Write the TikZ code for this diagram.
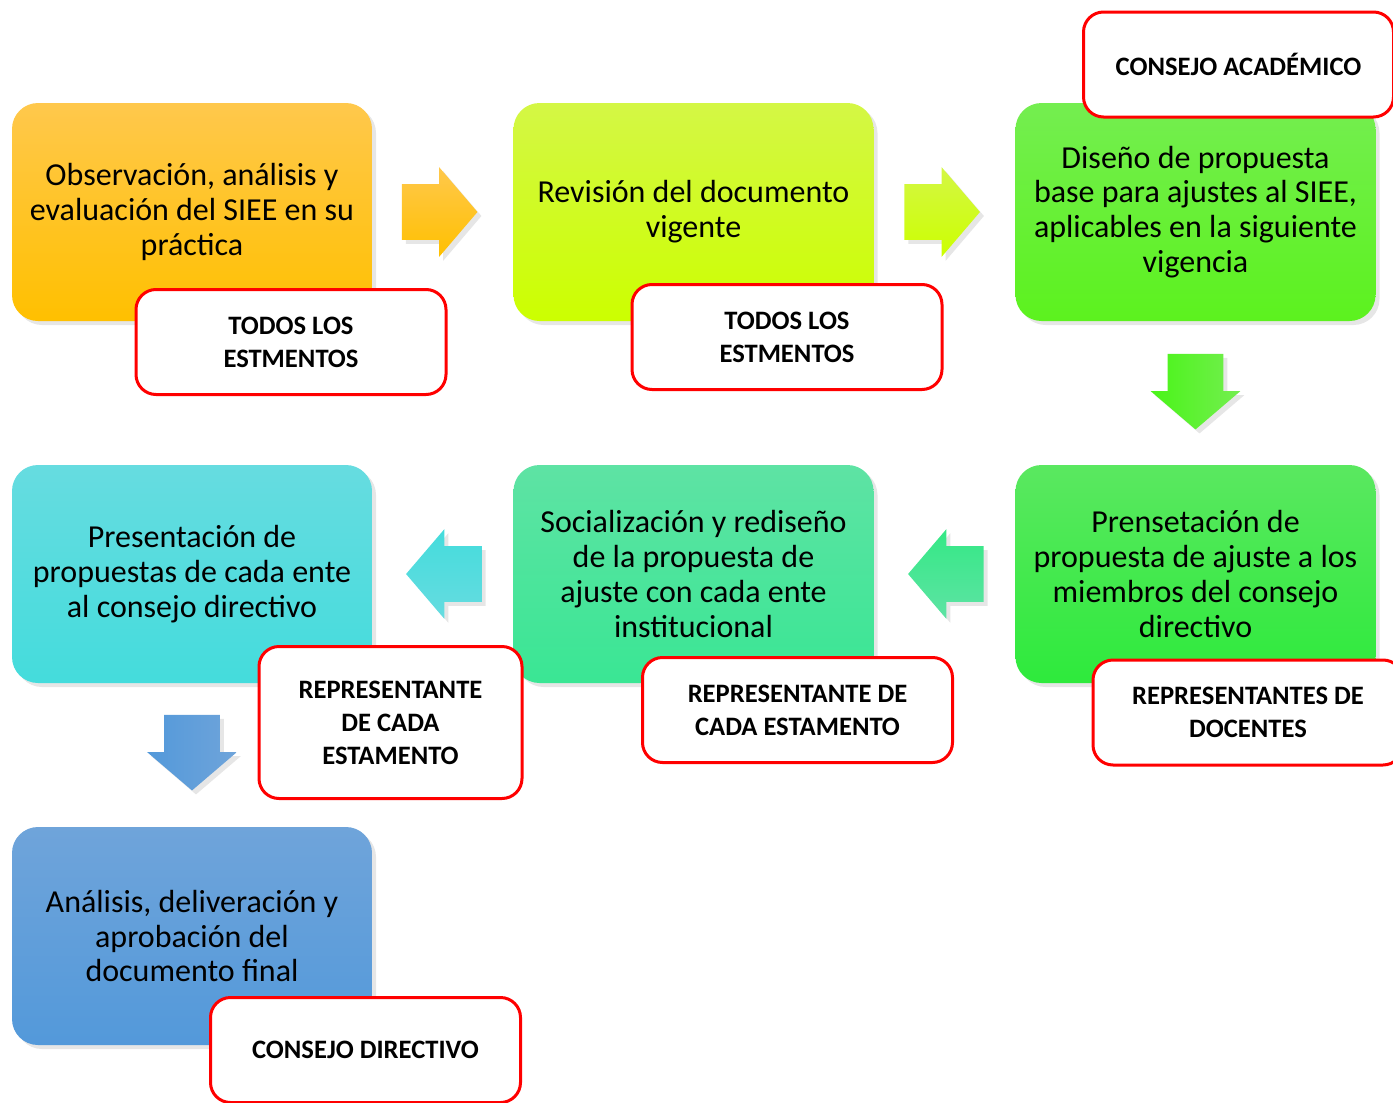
\documentclass[tikz,border=0pt]{standalone}
\usepackage{fontspec}
\setmainfont{Carlito}
\usepackage{tikz}
\usetikzlibrary{calc,shapes.arrows,shadows}
\definecolor{topA}{HTML}{FFC84C}
\definecolor{botA}{HTML}{FFC000}
\definecolor{topB}{HTML}{D4F745}
\definecolor{botB}{HTML}{CCFF00}
\definecolor{topC}{HTML}{74EE50}
\definecolor{botC}{HTML}{5CF21E}
\definecolor{topD}{HTML}{5AE860}
\definecolor{botD}{HTML}{2EEA3C}
\definecolor{topE}{HTML}{5EE3A4}
\definecolor{botE}{HTML}{3AE694}
\definecolor{topF}{HTML}{66DCE0}
\definecolor{botF}{HTML}{44DCDC}
\definecolor{topG}{HTML}{6FA4DA}
\definecolor{botG}{HTML}{5399DA}
\definecolor{redline}{HTML}{FF0000}

\begin{document}
\begin{tikzpicture}[x=0.5pt, y=-0.5pt,
  stepbox/.style={rounded corners=13pt, minimum width=180pt, minimum height=109pt, inner sep=0pt,
    align=center, font=\fontsize{16}{17.4}\selectfont,
    drop shadow={opacity=0.2, shadow xshift=2pt, shadow yshift=-2pt}},
  whobox/.style={draw=redline, line width=1.5pt, fill=white, rounded corners=10pt,
    minimum width=155pt, minimum height=52.5pt, inner sep=0pt, align=center,
    font=\bfseries\fontsize{13.3}{16.5}\selectfont},
  flow/.style={single arrow, single arrow head extend=8.5pt, single arrow tip angle=99,
    inner xsep=12.75pt, inner ysep=13.75pt, anchor=tail,
    drop shadow={opacity=0.2, shadow xshift=2pt, shadow yshift=-2pt}},
  flowdown/.style={flow, shape border rotate=270, inner xsep=13.75pt, inner ysep=12.75pt}
]
\useasboundingbox (0,0) rectangle (1393,1103);

% process steps
\foreach \n/\k/\x/\y/\txt in {
  1/A/192/212/{Observación, análisis y\\evaluación del SIEE en su\\práctica},
  2/B/693.5/212/{Revisión del documento\\vigente},
  3/C/1195.5/212/{Diseño de propuesta\\base para ajustes al SIEE,\\aplicables en la siguiente\\vigencia},
  4/D/1195.5/574/{Prensetación de\\propuesta de ajuste a los\\miembros del consejo\\directivo},
  5/E/693.5/574/{Socialización y rediseño\\de la propuesta de\\ajuste con cada ente\\institucional},
  6/F/192/574/{Presentación de\\propuestas de cada ente\\al consejo directivo},
  7/G/192/936/{Análisis, deliveración y\\aprobación del\\documento final}} {
  \node[stepbox, top color=top\k, bottom color=bot\k] (s\n) at (\x,\y) {\txt};
}

% block arrows between steps
\node[flow, top color=topA, bottom color=botA] (a1) at ($(s1.east)+(29,0)$) {};
\node[flow, top color=topB, bottom color=botB] (a2) at ($(s2.east)+(30,0)$) {};
\node[flowdown, left color=botC!80!green, right color=topC] (a3) at ($(s3.south)+(0,32)$) {};
\node[flow, shape border rotate=180, top color=botE!90!green, bottom color=topE] (a4) at ($(s4.west)+(-31,0)$) {};
\node[flow, shape border rotate=180, top color=botF, bottom color=topF] (a5) at ($(s5.west)+(-31,0)$) {};
\node[flowdown, left color=botG, right color=topG] (a6) at ($(s6.south)+(0,31)$) {};

% who is in charge
\node[whobox] (w1) at (291,342) {TODOS LOS\\ESTMENTOS};
\node[whobox] (w2) at (787,337) {TODOS LOS\\ESTMENTOS};
\node[whobox] (w3) at (1238.5,64.5) {CONSEJO ACADÉMICO};
\node[whobox] (w4) at (1248,712.5) {REPRESENTANTES DE\\DOCENTES};
\node[whobox] (w5) at (797.5,710) {REPRESENTANTE DE\\CADA ESTAMENTO};
\node[whobox, minimum width=131.5pt, minimum height=76pt] (w6) at (390.5,722.5) {REPRESENTANTE\\DE CADA\\ESTAMENTO};
\node[whobox] (w7) at (365.5,1050) {CONSEJO DIRECTIVO};
\end{tikzpicture}
\end{document}
